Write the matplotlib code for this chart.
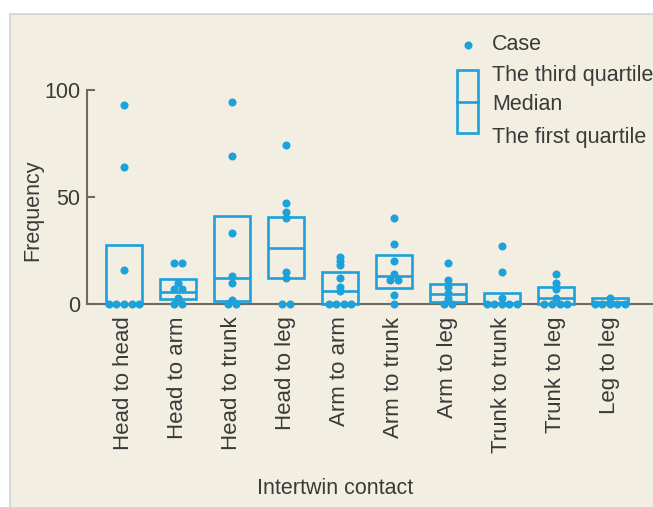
import matplotlib
matplotlib.use("Agg")
import matplotlib.pyplot as plt
from matplotlib.patches import Rectangle
from matplotlib.lines import Line2D

plt.rcParams['font.family'] = ['Liberation Sans', 'DejaVu Sans']

# --- dados ---
categorias = ["Head to head", "Head to arm", "Head to trunk", "Head to leg",
              "Arm to arm", "Arm to trunk", "Arm to leg", "Trunk to trunk",
              "Trunk to leg", "Leg to leg"]

head_head = [93, 64, 16, 0, 0, 0, 0, 0]
head_arm = [19, 19, 10, 7, 7, 3, 0, 0]
head_trunk = [94, 69, 33, 13, 10, 2, 0, 0]
head_leg = [74, 47, 43, 40, 15, 12, 0, 0]
arm_arm = [22, 20, 18, 12, 8, 6, 0, 0, 0, 0]
arm_trunk = [40, 28, 20, 14, 11, 11, 4, 0]
arm_leg = [19, 11, 8, 5, 3, 0, 0]
trunk_trunk = [27, 15, 3, 0, 0, 0, 0, 0]
trunk_leg = [14, 10, 7, 3, 0, 0, 0, 0]
leg_leg = [3, 0, 0, 0, 0, 0]

casos = [head_head, head_arm, head_trunk, head_leg, arm_arm,
         arm_trunk, arm_leg, trunk_trunk, trunk_leg, leg_leg]

q1 = [0, 2.5, 1.5, 12, 0, 7.5, 1, 0, 0, 0]
mediana = [0, 5.5, 12, 26, 6, 13, 4.5, 0.5, 3, 1]
q3 = [27.5, 11.5, 41, 40.5, 15, 23, 9.5, 5, 8, 3]

# --- estilo ---
azul = "#1ba1dc"
bege = "#f2eee1"
texto = "#3a3a3a"
eixo = "#6e6a62"
largura = 0.66
passo = 0.14

fig = plt.figure(figsize=(6.53, 5.07), dpi=100, facecolor="white")
W, H = 653, 507

# painel bege com borda só em cima e à esquerda
fig.patches.append(Rectangle((10 / W, 0), 1 - 10 / W, 1 - 14 / H,
                             transform=fig.transFigure, facecolor=bege,
                             edgecolor="none", zorder=-10))
fig.lines.append(Line2D([10 / W, 10 / W, 1], [0, 1 - 14 / H, 1 - 14 / H],
                        color="#d2d2d2", linewidth=1.2,
                        transform=fig.transFigure, zorder=-9))

ax = fig.add_axes([87 / W, 1 - 308.3 / H, 566 / W, 288.5 / H])
ax.set_facecolor("none")

for i, (vals, a, m, b) in enumerate(zip(casos, q1, mediana, q3)):
    ax.add_patch(Rectangle((i - largura / 2, a), largura, b - a, fill=False,
                           edgecolor=azul, linewidth=1.9, zorder=3))
    ax.plot([i - largura / 2, i + largura / 2], [m, m], color=azul,
            linewidth=1.9, zorder=3, solid_capstyle="butt")
    # pontos iguais lado a lado
    contagem = {}
    for v in vals:
        contagem[v] = contagem.get(v, 0) + 1
    for v, n in contagem.items():
        xs = [i + (k - (n - 1) / 2) * passo for k in range(n)]
        ax.plot(xs, [v] * n, "o", color=azul, markersize=5.8,
                markeredgewidth=0, zorder=4)

ax.set_xlim(-0.685, 9.8)
ax.set_ylim(-2, 132.5)

for s in ["top", "right"]:
    ax.spines[s].set_visible(False)
ax.spines["left"].set_bounds(0, 100)
ax.spines["bottom"].set_position(("data", 0))
for s in ["left", "bottom"]:
    ax.spines[s].set_color(eixo)
    ax.spines[s].set_linewidth(1.5)
ax.spines["bottom"].set_zorder(1)

ax.set_yticks([0, 50, 100])
ax.tick_params(axis="y", direction="in", length=6, width=1.5, color=eixo,
               labelsize=15.5, labelcolor=texto, pad=5)
ax.set_xticks(range(len(categorias)))
ax.set_xticklabels(categorias, rotation=90)
ax.tick_params(axis="x", length=0, labelsize=16, labelcolor=texto, pad=9)

fig.text(335 / W, 1 - 489 / H, "Intertwin contact", ha="center", va="center",
         fontsize=15.5, color=texto)
fig.text(33 / W, 1 - 210 / H, "Frequency", ha="center", va="center",
         rotation=90, fontsize=15.5, color=texto)

# legenda desenhada à mão
fig.lines.append(Line2D([468 / W], [1 - 45 / H], marker="o", color=azul,
                        markersize=5.8, markeredgewidth=0,
                        transform=fig.transFigure))
fig.patches.append(Rectangle((457 / W, 1 - 133 / H), 21 / W, 63 / H,
                             transform=fig.transFigure, fill=False,
                             edgecolor=azul, linewidth=1.9))
fig.lines.append(Line2D([457 / W, 478 / W], [1 - 102 / H, 1 - 102 / H],
                        color=azul, linewidth=1.9, transform=fig.transFigure))
for y, t in [(45, "Case"), (76, "The third quartile"), (105, "Median"),
             (137, "The first quartile")]:
    fig.text(492 / W, 1 - y / H, t, ha="left", va="center", fontsize=15.5,
             color=texto)

fig.savefig("out.png", dpi=100, facecolor="white")
